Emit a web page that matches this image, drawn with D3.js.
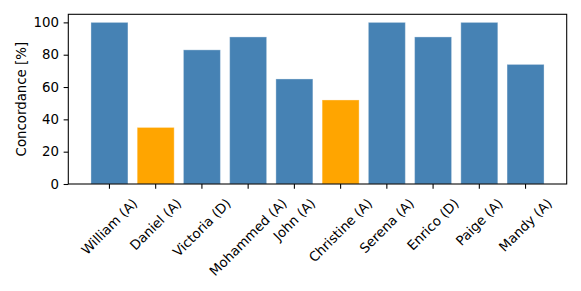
<!DOCTYPE html>
<html>
<head>
<meta charset="utf-8">
<script src="https://cdn.jsdelivr.net/npm/d3@7"></script>
<style>
  body { margin: 0; background: #fff; }
  svg text { font-family: "DejaVu Sans", sans-serif; fill: #000; }
</style>
</head>
<body>
<div id="chart"></div>
<script>
// data
const names = ['William (A)', 'Daniel (A)', 'Victoria (D)', 'Mohammed (A)', 'John (A)',
  'Christine (A)', 'Serena (A)', 'Enrico (D)', 'Paige (A)', 'Mandy (A)'];
const concordance = [100, 35, 83, 91, 65, 52, 100, 91, 100, 74];
const highlighted = ['Daniel (A)', 'Christine (A)'];
const yTicks = [0, 20, 40, 60, 80, 100];

const W = 581, H = 291;
const margin = { top: 14.3, right: 14.3, bottom: 107, left: 68.3 };
const width = W - margin.left - margin.right,
  height = H - margin.top - margin.bottom;
const fontSize = 13.33;

const svg = d3.select('#chart')
  .append('svg')
  .attr('width', W)
  .attr('height', H);

const g = svg.append('g')
  .attr('transform', `translate(${margin.left},${margin.top})`);

const x = d3.scaleBand(names, [0, width])
  .paddingInner(0.2)
  .paddingOuter(0.49);
const y = d3.scaleLinear([0, 105], [height, 0]);

// bars
g.selectAll('rect.bar')
  .data(names)
  .join('rect')
  .attr('class', 'bar')
  .attr('x', d => x(d))
  .attr('width', x.bandwidth())
  .attr('y', (d, i) => y(concordance[i]))
  .attr('height', (d, i) => height - y(concordance[i]))
  .attr('fill', d => highlighted.includes(d) ? '#ffa500' : '#4682b4')
  .attr('stroke', '#fff')
  .attr('stroke-opacity', 0.35)
  .attr('stroke-width', 1);

// y axis
const yAxis = d3.axisLeft(y)
  .tickValues(yTicks)
  .tickSize(4.67)
  .tickPadding(4.67);
const ya = g.append('g').call(yAxis);
ya.select('.domain').remove();
ya.selectAll('line').attr('stroke', '#000').attr('stroke-width', 1.07);
ya.selectAll('text')
  .attr('font-size', fontSize)
  .attr('font-family', '"DejaVu Sans", sans-serif');

// x axis
const xAxis = d3.axisBottom(x)
  .tickSize(4.67)
  .tickFormat('');
const xa = g.append('g')
  .attr('transform', `translate(0,${height})`)
  .call(xAxis);
xa.select('.domain').remove();
xa.selectAll('line').attr('stroke', '#000').attr('stroke-width', 1.07);

// rotated labels, bbox centered under the tick (matplotlib rotation=45)
const labelTop = height + 4.67 + 4.67 + 3;
const labels = g.append('g');
names.forEach(name => {
  const t = labels.append('text')
    .attr('font-size', fontSize)
    .attr('text-anchor', 'middle')
    .attr('dominant-baseline', 'central')
    .text(name);
  const w = t.node().getComputedTextLength();
  const side = (w + fontSize * 1.0) / Math.SQRT2;
  const cx = x(name) + x.bandwidth() / 2;
  const cy = labelTop + side / 2;
  t.attr('transform', `translate(${cx},${cy}) rotate(-45)`);
});

// frame
g.append('rect')
  .attr('width', width)
  .attr('height', height)
  .attr('fill', 'none')
  .attr('stroke', '#000')
  .attr('stroke-width', 1.07);

// y label
svg.append('text')
  .attr('font-size', fontSize)
  .attr('text-anchor', 'middle')
  .attr('transform', `translate(${25.5},${margin.top + height / 2}) rotate(-90)`)
  .text('Concordance [%]');
</script>
</body>
</html>
